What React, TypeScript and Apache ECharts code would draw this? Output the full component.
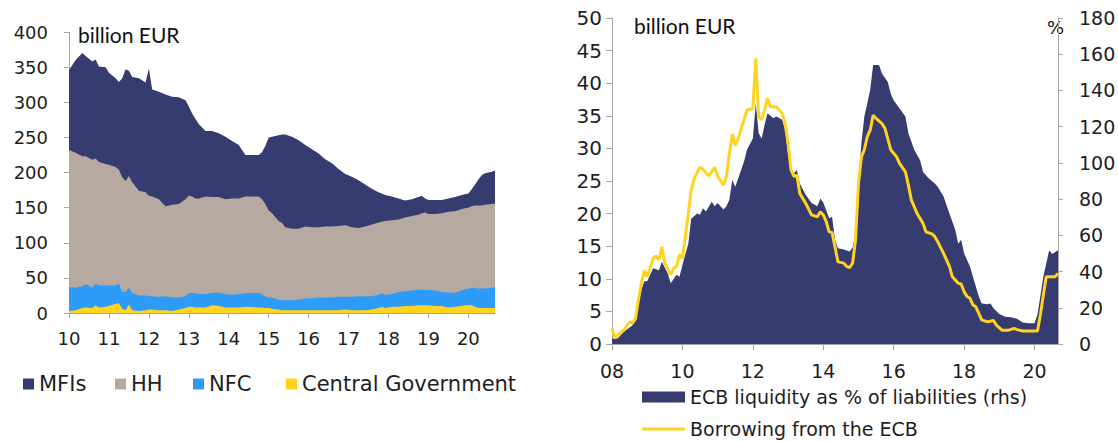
import React, { useEffect, useRef } from "react";
import * as echarts from "echarts";

// ---------- Left chart: holders, billion EUR (stacked) ----------
const leftMonths = [
  "2010-01","2010-03","2010-05","2010-06","2010-08","2010-09","2010-10","2010-12",
  "2011-01","2011-03","2011-04","2011-05","2011-06","2011-07","2011-08","2011-10","2011-12",
  "2012-01","2012-02","2012-04","2012-06","2012-08","2012-10","2012-12",
  "2013-01","2013-02","2013-03","2013-04","2013-06","2013-08","2013-10","2013-12",
  "2014-02","2014-04","2014-06","2014-10","2014-11","2014-12",
  "2015-01","2015-02","2015-04","2015-05","2015-06","2015-08","2015-10","2015-12",
  "2016-02","2016-04","2016-06","2016-08","2016-10","2016-12",
  "2017-02","2017-04","2017-06","2017-08","2017-10","2017-11","2017-12",
  "2018-02","2018-04","2018-06","2018-08","2018-10","2018-11","2018-12",
  "2019-01","2019-03","2019-05","2019-07","2019-09","2019-11","2019-12",
  "2020-01","2020-02","2020-03","2020-04","2020-05","2020-06","2020-08","2020-09",
];
const mfis = [
  114,132,147,143,140,141,136,138,
  131,126,125,141,159,150,150,160,156,
  181,152,153,159,154,152,141,
  127,118,113,106,93,94,91,89,
  82,76,59,59,67,83,
  104,109,122,126,132,131,126,116,
  111,105,96,90,81,73,
  72,68,60,51,43,40,37,
  34,30,24,24,25,25,20,
  20,20,19,19,20,20,20,
  20,24,30,37,43,45,46,47,
];
const hh = [
  195,192,185,182,182,178,176,173,
  172,169,162,163,158,159,158,149,147,
  143,142,139,128,132,133,138,
  139,137,135,136,139,136,136,135,
  137,136,138,137,135,132,
  124,120,112,110,104,102,101,102,
  101,100,101,101,101,102,
  99,97,99,102,103,102,105,
  105,103,105,106,107,109,110,
  108,109,112,115,116,116,115,
  116,116,117,118,118,119,119,119,
];
const nfc = [
  34,32,31,33,29,31,31,30,
  29,26,28,24,26,24,24,22,21,
  19,19,19,20,19,17,17,
  19,20,20,19,19,18,19,19,
  18,19,19,21,19,16,
  15,16,14,14,14,14,15,17,
  17,18,18,18,19,18,
  19,20,20,19,19,19,19,
  18,21,21,22,22,22,22,
  22,22,20,21,20,22,23,
  23,25,27,28,28,28,29,30,
];
const centralGov = [
  3,4,7,8,7,11,8,9,
  10,13,14,6,4,12,4,3,4,
  5,5,4,4,3,5,7,
  9,9,8,8,8,11,10,8,
  8,8,9,8,8,7,
  7,6,5,4,4,4,4,4,
  4,4,4,4,4,5,
  4,4,4,5,7,9,7,
  9,9,10,10,11,11,11,
  11,10,10,8,9,10,11,
  11,11,9,7,7,7,7,7,
];
const leftYearTicks = [2010, 2011, 2012, 2013, 2014, 2015, 2016, 2017, 2018, 2019, 2020];
const leftNames = ["MFIs", "HH", "NFC", "Central Government"];

// ---------- Right chart ----------
const liqMonths = [
  "2008-01","2008-03","2008-05","2008-08","2008-09","2008-11","2008-12",
  "2009-01","2009-03","2009-05","2009-06","2009-08","2009-09","2009-11","2009-12",
  "2010-01","2010-03","2010-04","2010-06","2010-07","2010-08","2010-09","2010-11","2010-12",
  "2011-01","2011-03","2011-04","2011-05","2011-06","2011-07","2011-08","2011-10","2011-11",
  "2012-01","2012-02","2012-03","2012-04","2012-05","2012-06","2012-08","2012-09","2012-11","2012-12",
  "2013-01","2013-02","2013-03","2013-04","2013-05","2013-07","2013-09","2013-11","2013-12",
  "2014-01","2014-02","2014-03","2014-04","2014-05","2014-06","2014-08","2014-10","2014-11","2014-12",
  "2015-01","2015-02","2015-03","2015-04","2015-05","2015-06","2015-08","2015-09","2015-11","2015-12",
  "2016-01","2016-03","2016-05","2016-06","2016-08","2016-10","2016-11",
  "2017-01","2017-03","2017-04","2017-06","2017-08","2017-10","2017-11","2017-12",
  "2018-01","2018-03","2018-04","2018-06","2018-07","2018-09","2018-10","2018-11",
  "2019-01","2019-03","2019-05","2019-07","2019-09","2019-11",
  "2020-01","2020-02","2020-04","2020-06","2020-07","2020-09",
];
const liqPct = [
  2.9,3.2,6.8,10.4,16.2,29.9,34.6,
  34.6,41.8,40.7,45.4,38.9,33.5,38.2,37.1,
  43.6,55.4,69.1,72,71.3,74.9,73.1,78.5,76,
  77.8,74.2,76,79.6,90.7,86.8,91.4,100.8,107.3,
  113.4,132.8,116.3,113.4,121,127.4,124.6,125.6,123.8,118.1,
  105.1,96.1,94.3,96.1,88.6,82.4,77.8,76,80.3,
  78.1,73.8,69.5,70.2,57.6,52.9,52.2,51.1,53.3,61.2,
  88.2,110.9,125.6,132.8,140.4,154.1,154.1,149.4,144.7,138.2,
  134.6,130,125.6,116.3,107.3,101.5,95,
  91.4,88.6,86.8,81.4,72,63,55.4,57.6,
  50,42.8,37.1,26.3,22.3,22,22.3,19.8,
  16.6,15.1,14.8,14,11.9,11.5,
  11.5,16.2,37.1,51.8,49.7,51.8,
];
const borrowMonths = [
  "2008-01","2008-02","2008-03","2008-05","2008-07","2008-08","2008-09","2008-10","2008-11","2008-12",
  "2009-01","2009-03","2009-04","2009-05","2009-06","2009-07","2009-09","2009-10","2009-11","2009-12",
  "2010-01","2010-02","2010-03","2010-04","2010-05","2010-07","2010-08","2010-10","2010-12",
  "2011-01","2011-03","2011-04","2011-05","2011-06","2011-07","2011-08","2011-10","2011-11",
  "2012-01","2012-02","2012-03","2012-04","2012-05","2012-06","2012-07","2012-09","2012-11","2012-12",
  "2013-01","2013-02","2013-03","2013-04","2013-05","2013-07","2013-09","2013-11","2013-12",
  "2014-01","2014-02","2014-03","2014-04","2014-05","2014-06","2014-08","2014-09","2014-10","2014-11","2014-12",
  "2015-01","2015-02","2015-03","2015-04","2015-05","2015-06","2015-07","2015-09","2015-10","2015-12",
  "2016-02","2016-03","2016-05","2016-06","2016-07","2016-09","2016-11","2016-12",
  "2017-02","2017-03","2017-04","2017-06","2017-08","2017-09","2017-11","2017-12",
  "2018-01","2018-02","2018-03","2018-04","2018-05","2018-07","2018-09","2018-11","2018-12",
  "2019-02","2019-04","2019-06","2019-07","2019-09","2020-02","2020-03","2020-04","2020-05","2020-08","2020-09",
];
const borrowBn = [
  2.4,0.9,1.4,2.1,3.4,3.2,3.9,6.7,9.3,11.3,
  10.3,13.1,13.5,12.9,14.9,12.4,10.6,11.6,11.9,13.7,
  13.1,16.5,20,23.6,25.4,27.1,26.8,25.8,27.1,
  25.7,24.4,25.7,29.2,32.2,30.5,31.5,34.4,35.9,
  36.1,43.8,34.9,34.4,35.9,37.7,36.4,36.4,35.4,33.8,
  30.8,26.7,25.7,25.9,23.1,21.6,19.8,19.5,20.3,
  19.8,18.8,17.2,17.1,14.9,12.6,12.4,11.9,11.7,12.4,16,
  24.6,28.7,29.8,31.8,32.8,35.1,34.6,33.8,33.1,29.8,
  28.7,27.7,26.4,24.4,22.1,20,18.5,17.2,
  16.9,16.5,15.7,13.9,11.9,10.3,9.3,9.2,
  8,7.3,7,6,5.7,3.7,3.4,3.6,2.9,
  2.1,2.1,2.4,2.2,2,2,4.5,7.5,10.3,10.3,10.8,
];
const rightYearTicks = [2008, 2010, 2012, 2014, 2016, 2018, 2020];
const liqName = "ECB liquidity as % of liabilities (rhs)";
const borrowName = "Borrowing from the ECB";

// ---------- helpers ----------
const toYear = (s: string) => {
  const [y, m] = s.split("-").map(Number);
  return y + (m - 1) / 12;
};
const yearPairs = (months: string[], vals: number[]) => months.map((m, i) => [toYear(m), vals[i]]);
const yy = (y: number) => String(Math.round(y) % 100).padStart(2, "0");

const AXIS = "#A6A6A6";
const TXT = "#1E1E1E";
const FONT = "DejaVu Sans";
const NAVY = "#363B70";
const TAUPE = "#B6A9A1";
const BLUE = "#2E9CF6";
const YELLOW = "#FFD320";

function buildOption(): echarts.EChartsCoreOption {
  const leftColors = [NAVY, TAUPE, BLUE, YELLOW];
  const leftVals = [mfis, hh, nfc, centralGov];
  // Stacked areas: each band is drawn as the area under the running total of itself and
  // every band below it, back to front (MFIs on top of the stack is painted first).
  const cumulative = (from: number) =>
    leftMonths.map((_, k) => {
      let s = 0;
      for (let j = from; j < leftVals.length; j++) s += leftVals[j][k];
      return s;
    });
  const leftSeries = [0, 1, 2, 3].map((i) => ({
    type: "line",
    name: leftNames[i],
    xAxisIndex: 0,
    yAxisIndex: 0,
    symbol: "none",
    lineStyle: { width: 0 },
    areaStyle: { color: leftColors[i], opacity: 1 },
    itemStyle: { color: leftColors[i] },
    z: 2 + i,
    data: yearPairs(leftMonths, cumulative(i)),
  }));
  const legendLefts = [23, 115, 193, 286];
  const leftLegends = leftNames.map((n, i) => ({
    data: [{ name: n, icon: "rect", itemStyle: { color: leftColors[i] } }],
    left: legendLefts[i],
    top: 373,
    padding: 0,
    itemWidth: 11,
    itemHeight: 11,
    itemGap: 0,
    textStyle: { fontFamily: FONT, fontSize: 21, color: TXT, lineHeight: 22 },
  }));

  const axisBase = {
    splitLine: { show: false },
    axisLine: { show: true, lineStyle: { color: AXIS, width: 1 } },
    axisTick: { show: true, length: 5, lineStyle: { color: AXIS } },
  };

  return {
    animation: false,
    textStyle: { fontFamily: FONT },
    grid: [
      { left: 69, top: 32, width: 426, height: 281, containLabel: false, outerBoundsMode: "none" },
      { left: 612, top: 18, width: 446, height: 326, containLabel: false, outerBoundsMode: "none" },
    ],
    xAxis: [
      {
        ...axisBase,
        type: "value",
        gridIndex: 0,
        min: toYear(leftMonths[0]),
        max: toYear(leftMonths[leftMonths.length - 1]),
        axisTick: { ...axisBase.axisTick, customValues: leftYearTicks },
        axisLabel: {
          customValues: leftYearTicks,
          formatter: (v: number) => yy(v),
          fontFamily: FONT,
          fontSize: 18,
          color: TXT,
          margin: 16,
        },
      },
      {
        ...axisBase,
        type: "value",
        gridIndex: 1,
        min: toYear(borrowMonths[0]),
        max: toYear(borrowMonths[borrowMonths.length - 1]),
        axisTick: { ...axisBase.axisTick, length: 6, customValues: rightYearTicks },
        axisLabel: {
          customValues: rightYearTicks,
          formatter: (v: number) => yy(v),
          fontFamily: FONT,
          fontSize: 19,
          color: TXT,
          margin: 17,
        },
      },
    ],
    yAxis: [
      {
        ...axisBase,
        type: "value",
        gridIndex: 0,
        min: 0,
        max: 400,
        interval: 50,
        axisLabel: { fontFamily: FONT, fontSize: 18, color: TXT, margin: 21 },
      },
      {
        ...axisBase,
        type: "value",
        gridIndex: 1,
        position: "left",
        min: 0,
        max: 50,
        interval: 5,
        axisTick: { ...axisBase.axisTick, length: 6 },
        axisLabel: { fontFamily: FONT, fontSize: 20, color: TXT, margin: 10 },
      },
      {
        ...axisBase,
        type: "value",
        gridIndex: 1,
        position: "right",
        min: 0,
        max: 180,
        interval: 20,
        axisLabel: { fontFamily: FONT, fontSize: 19, color: TXT, margin: 21 },
      },
    ],
    legend: [
      ...leftLegends,
      {
        data: [{ name: liqName, icon: "rect", itemStyle: { color: NAVY } }],
        left: 642,
        top: 386,
        padding: 0,
        itemWidth: 43,
        itemHeight: 11,
        textStyle: { fontFamily: FONT, fontSize: 19, color: TXT, lineHeight: 22 },
      },
      {
        data: [{ name: borrowName, icon: "rect", itemStyle: { color: YELLOW } }],
        left: 642,
        top: 418,
        padding: 0,
        itemWidth: 43,
        itemHeight: 3,
        textStyle: { fontFamily: FONT, fontSize: 19, color: TXT, lineHeight: 22 },
      },
    ],
    graphic: [
      {
        type: "text",
        left: 78,
        top: 24,
        style: { text: "billion EUR", font: "21px Lato", fill: "#111" },
      },
      {
        type: "text",
        left: 634,
        top: 15,
        style: { text: "billion EUR", font: "21px Lato", fill: "#111" },
      },
      {
        type: "text",
        left: 1047,
        top: 18,
        style: { text: "%", font: "18px DejaVu Sans", fill: "#111" },
      },
    ],
    series: [
      ...leftSeries,
      {
        type: "line",
        name: liqName,
        xAxisIndex: 1,
        yAxisIndex: 2,
        symbol: "none",
        lineStyle: { width: 0 },
        areaStyle: { color: NAVY, opacity: 1 },
        itemStyle: { color: NAVY },
        data: yearPairs(liqMonths, liqPct),
      },
      {
        type: "line",
        name: borrowName,
        xAxisIndex: 1,
        yAxisIndex: 1,
        symbol: "none",
        lineStyle: { width: 3, color: YELLOW },
        itemStyle: { color: YELLOW },
        data: yearPairs(borrowMonths, borrowBn),
        z: 3,
      },
    ],
  };
}

export default function App() {
  const ref = useRef<HTMLDivElement>(null);
  useEffect(() => {
    if (!ref.current) return;
    const chart = echarts.init(ref.current, undefined, { renderer: "svg" });
    chart.setOption(buildOption());
    return () => chart.dispose();
  }, []);
  return (
    <div
      ref={ref}
      style={{ position: "fixed", left: 0, top: 0, width: 1118, height: 441, background: "#fff" }}
    />
  );
}
